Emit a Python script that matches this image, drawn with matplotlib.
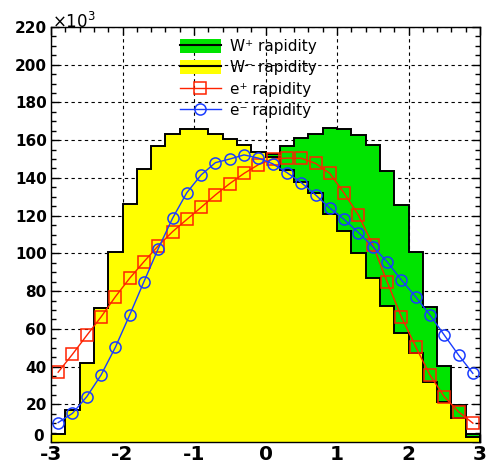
import numpy as np
import matplotlib.pyplot as plt
import matplotlib.transforms as mtransforms
from matplotlib.patches import Patch
from matplotlib.lines import Line2D
from matplotlib.ticker import MultipleLocator

plt.rcParams['axes.unicode_minus'] = False

# rapidity bins (-3 .. 3, width 0.2)
bin_edges = np.linspace(-3, 3, 31)
bin_centers = 0.5 * (bin_edges[:-1] + bin_edges[1:])

# entries per bin, in units of 10^3
w_plus = [2, 12.5, 21.5, 32, 47, 58, 72, 87, 100, 112,
          121, 132, 138, 144, 150, 152.5, 157, 161, 163.5, 166.5,
          166, 163, 157.5, 143.5, 125.5, 100.5, 71.5, 40.5, 19.5, 4]
w_minus = [4.5, 17, 42, 71, 100.5, 126, 144.7, 157, 163.5, 165.8,
           166, 163.5, 160.5, 157.5, 154, 151, 144, 138, 132, 121,
           112, 100, 87, 72, 57.6, 47, 32, 21.4, 12.5, 2.5]
e_plus = [37, 46.5, 56.5, 66.3, 77, 86.8, 95.6, 104, 111.5, 118,
          124.4, 131, 137, 142.4, 147, 150, 150.5, 150.4, 147.7, 142.4,
          131.9, 120.3, 104.5, 85, 66.4, 50.5, 35.5, 24, 16, 10]
e_minus = [10.3, 15.2, 24, 35.5, 50.2, 67.3, 85, 102.5, 118.6, 132.2,
           141.6, 148.1, 150, 152.2, 150.5, 147.5, 142.8, 137.5, 131, 124,
           118, 111, 103.6, 95.6, 85.9, 77, 67.3, 56.7, 46.1, 36.4]

labels = ['W⁺ rapidity', 'W⁻ rapidity', 'e⁺ rapidity', 'e⁻ rapidity']

green = '#00e400'
yellow = '#ffff00'
red = '#ff2200'
blue = '#1a3cff'

fig = plt.figure(figsize=(4.87, 4.74), dpi=100)
ax = fig.add_axes([51 / 487, 32 / 474, 429 / 487, 415 / 474])

ax.set_axisbelow(True)
ax.grid(True, which='major', color='black', lw=0.8, ls=(0, (3, 3)))

# W+ first, W- filled over it
ax.stairs(w_plus, bin_edges, fill=True, color=green)
ax.stairs(w_plus, bin_edges, color='black', lw=1.4)
ax.stairs(w_minus, bin_edges, fill=True, color=yellow)
ax.stairs(w_minus, bin_edges, color='black', lw=1.4)

ax.plot(bin_centers, e_plus, color=red, lw=1, marker='s', ms=9,
        mfc='none', mec=red, mew=1.1)
ax.plot(bin_centers, e_minus, color=blue, lw=1, marker='o', ms=8,
        mfc='none', mec=blue, mew=1.1)

ax.set_xlim(-3, 3)
ax.set_ylim(0, 220)
ax.set_xticks(range(-3, 4))
ax.set_yticks(range(0, 221, 20))
ax.xaxis.set_minor_locator(MultipleLocator(0.2))
ax.yaxis.set_minor_locator(MultipleLocator(5))
ax.tick_params(which='both', direction='in', top=True, right=True, width=1)
ax.tick_params(which='major', length=6)
ax.tick_params(which='minor', length=3.5)
ax.tick_params(axis='x', labelsize=14.5, pad=2)
ax.tick_params(axis='y', labelsize=11, pad=3)
for lab in ax.get_xticklabels() + ax.get_yticklabels():
    lab.set_fontweight('bold')
for s in ax.spines.values():
    s.set_linewidth(1)

# lift the y "0" a little so it does not sit on the x "-3"
zero = ax.get_yticklabels()[0]
zero.set_transform(zero.get_transform() +
                   mtransforms.ScaledTranslation(-2 / 72, 5 / 72, fig.dpi_scale_trans))

fig.text(52 / 487, 1 - 28 / 474, r'$\times$10$^{3}$', fontsize=12,
         ha='left', va='baseline')

handles = [
    (Patch(facecolor=green, edgecolor='none'), Line2D([], [], color='black', lw=1.5)),
    (Patch(facecolor=yellow, edgecolor='none'), Line2D([], [], color='black', lw=1.5)),
    Line2D([], [], color=red, lw=1, marker='s', ms=9, mfc='none', mew=1.1),
    Line2D([], [], color=blue, lw=1, marker='o', ms=8, mfc='none', mew=1.1),
]
ax.legend(handles, labels, loc='upper left',
          bbox_to_anchor=(172 / 487, 1 - 31 / 474), bbox_transform=fig.transFigure,
          frameon=False, borderpad=0, fontsize=11, handlelength=2.7,
          handleheight=1.05, handletextpad=0.6, labelspacing=0.4, numpoints=1)

fig.savefig('out.png', dpi=100)
